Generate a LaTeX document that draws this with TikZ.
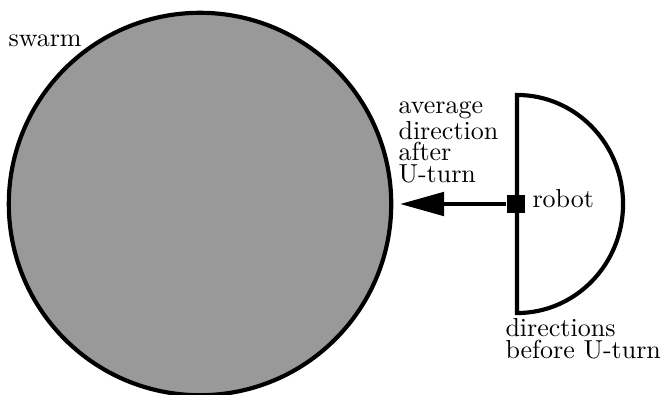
\documentclass[tikz,border=0pt]{standalone}
\usepackage{tikz}
\usetikzlibrary{positioning, arrows.meta}
\definecolor{SwarmGray}{HTML}{999999}

\begin{document}
\begin{tikzpicture}[
  thickline/.style={line width=1.6pt},
  lbl/.style={font=\fontsize{10}{8.1}\selectfont, align=left, inner sep=0pt, anchor=base west},
]
  \useasboundingbox (-2.704,-2.569) rectangle (6.259,2.758);

  % swarm: big grey disc
  \node[circle, thickline, draw=black, fill=SwarmGray, minimum size=5.17cm, inner sep=0pt]
    (swarm) at (0,0) {};
  \node[lbl] (swarmlbl) at (-2.596,2.136) {swarm};

  % half disc of directions before the U-turn
  \draw[thickline, fill=white] (4.286,1.474)
    arc[start angle=90, end angle=-90, x radius=1.433, y radius=1.474] -- cycle;

  % robot and its average direction
  \coordinate (avg) at (2.704,0);
  \node[fill=black, minimum size=0.243cm, inner sep=0pt] (robot) at (4.27,0) {};
  \draw[thickline, -{Triangle[length=17pt, width=9pt]}] (robot) -- (avg);

  % labels (base = last line)
  \node[lbl] (robotlbl) at (4.488,-0.041) {robot};
  \node[lbl] (avglbl) at (2.677,0.297) {average\\direction\\after\\U-turn};
  \node[lbl] (dirlbl) at (4.123,-2.082) {directions\\before U-turn};
\end{tikzpicture}
\end{document}
